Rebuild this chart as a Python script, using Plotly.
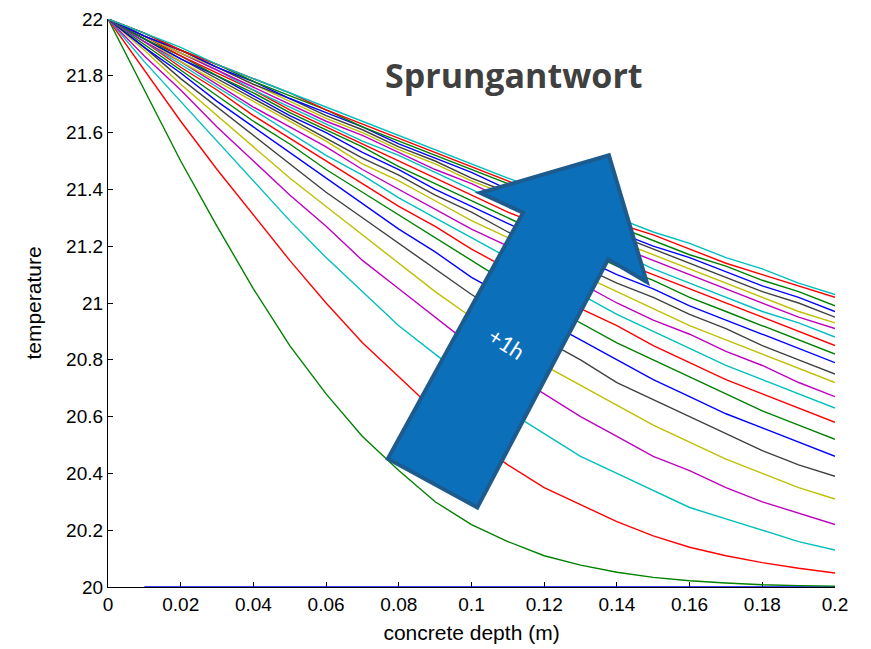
import plotly.graph_objects as go

# concrete depth (m)
depth = [0, 0.01, 0.02, 0.03, 0.04, 0.05, 0.06, 0.07, 0.08, 0.09, 0.10,
         0.11, 0.12, 0.13, 0.14, 0.15, 0.16, 0.17, 0.18, 0.19, 0.20]

# temperature profiles, one per hour after the step
t_h00 = [None, 20, 20, 20, 20, 20, 20, 20, 20, 20, 20, 20, 20, 20, 20, 20, 20, 20, 20, 20, 20]
t_h01 = [22, 21.75, 21.50, 21.27, 21.05, 20.85, 20.68, 20.53, 20.41, 20.30, 20.22, 20.16, 20.11, 20.077, 20.052, 20.034, 20.022, 20.014, 20.008, 20.005, 20.003]
t_h02 = [22, 21.82, 21.64, 21.47, 21.31, 21.15, 21.00, 20.86, 20.74, 20.62, 20.52, 20.43, 20.35, 20.29, 20.23, 20.18, 20.14, 20.11, 20.086, 20.066, 20.049]
t_h03 = [22, 21.85, 21.71, 21.57, 21.43, 21.29, 21.16, 21.04, 20.92, 20.82, 20.72, 20.62, 20.54, 20.46, 20.40, 20.34, 20.28, 20.24, 20.20, 20.16, 20.13]
t_h04 = [22, 21.87, 21.75, 21.62, 21.50, 21.38, 21.27, 21.15, 21.05, 20.95, 20.85, 20.76, 20.68, 20.60, 20.53, 20.46, 20.41, 20.35, 20.30, 20.26, 20.22]
t_h05 = [22, 21.89, 21.77, 21.66, 21.55, 21.44, 21.34, 21.24, 21.14, 21.04, 20.95, 20.87, 20.78, 20.71, 20.64, 20.57, 20.51, 20.45, 20.40, 20.35, 20.31]
t_h06 = [22, 21.90, 21.79, 21.69, 21.59, 21.49, 21.39, 21.30, 21.21, 21.12, 21.03, 20.95, 20.87, 20.80, 20.72, 20.66, 20.60, 20.54, 20.48, 20.43, 20.39]
t_h07 = [22, 21.90, 21.81, 21.71, 21.62, 21.53, 21.44, 21.35, 21.26, 21.18, 21.09, 21.02, 20.94, 20.87, 20.80, 20.73, 20.67, 20.61, 20.56, 20.51, 20.46]
t_h08 = [22, 21.91, 21.82, 21.73, 21.64, 21.56, 21.47, 21.39, 21.31, 21.23, 21.15, 21.07, 21.00, 20.93, 20.86, 20.80, 20.74, 20.68, 20.62, 20.57, 20.52]
t_h09 = [22, 21.92, 21.83, 21.75, 21.66, 21.58, 21.50, 21.42, 21.34, 21.27, 21.19, 21.12, 21.05, 20.98, 20.92, 20.85, 20.79, 20.73, 20.68, 20.63, 20.58]
t_h10 = [22, 21.92, 21.84, 21.76, 21.68, 21.60, 21.52, 21.45, 21.37, 21.30, 21.23, 21.16, 21.09, 21.03, 20.96, 20.90, 20.84, 20.78, 20.73, 20.68, 20.63]
t_h11 = [22, 21.92, 21.85, 21.77, 21.69, 21.62, 21.55, 21.47, 21.40, 21.33, 21.26, 21.20, 21.13, 21.07, 21.00, 20.94, 20.89, 20.83, 20.78, 20.72, 20.67]
t_h12 = [22, 21.93, 21.85, 21.78, 21.71, 21.64, 21.57, 21.49, 21.43, 21.36, 21.29, 21.23, 21.16, 21.10, 21.04, 20.98, 20.92, 20.87, 20.82, 20.77, 20.72]
t_h13 = [22, 21.93, 21.86, 21.79, 21.72, 21.65, 21.58, 21.51, 21.45, 21.38, 21.32, 21.25, 21.19, 21.13, 21.07, 21.02, 20.96, 20.91, 20.85, 20.80, 20.75]
t_h14 = [22, 21.93, 21.86, 21.80, 21.73, 21.66, 21.60, 21.53, 21.47, 21.40, 21.34, 21.28, 21.22, 21.16, 21.10, 21.05, 20.99, 20.94, 20.89, 20.84, 20.79]
t_h15 = [22, 21.93, 21.87, 21.80, 21.74, 21.67, 21.61, 21.55, 21.48, 21.42, 21.36, 21.30, 21.24, 21.19, 21.13, 21.08, 21.02, 20.97, 20.92, 20.87, 20.82]
t_h16 = [22, 21.94, 21.87, 21.81, 21.75, 21.68, 21.62, 21.56, 21.50, 21.44, 21.38, 21.32, 21.27, 21.21, 21.15, 21.10, 21.05, 21.00, 20.95, 20.90, 20.85]
t_h17 = [22, 21.94, 21.88, 21.82, 21.75, 21.69, 21.63, 21.57, 21.52, 21.46, 21.40, 21.34, 21.29, 21.23, 21.18, 21.12, 21.07, 21.02, 20.97, 20.93, 20.88]
t_h18 = [22, 21.94, 21.88, 21.82, 21.76, 21.70, 21.64, 21.59, 21.53, 21.47, 21.42, 21.36, 21.31, 21.25, 21.20, 21.15, 21.10, 21.05, 21.00, 20.95, 20.91]
t_h19 = [22, 21.94, 21.88, 21.83, 21.77, 21.71, 21.65, 21.60, 21.54, 21.49, 21.43, 21.38, 21.32, 21.27, 21.22, 21.17, 21.12, 21.07, 21.02, 20.97, 20.93]
t_h20 = [22, 21.94, 21.89, 21.83, 21.77, 21.72, 21.66, 21.61, 21.55, 21.50, 21.44, 21.39, 21.34, 21.29, 21.24, 21.19, 21.14, 21.09, 21.04, 21.00, 20.95]
t_h21 = [22, 21.94, 21.89, 21.83, 21.78, 21.72, 21.67, 21.62, 21.56, 21.51, 21.46, 21.40, 21.35, 21.30, 21.25, 21.20, 21.16, 21.11, 21.06, 21.02, 20.97]
t_h22 = [22, 21.95, 21.89, 21.84, 21.78, 21.73, 21.68, 21.62, 21.57, 21.52, 21.47, 21.42, 21.37, 21.32, 21.27, 21.22, 21.17, 21.13, 21.08, 21.04, 20.99]
t_h23 = [22, 21.95, 21.89, 21.84, 21.79, 21.74, 21.68, 21.63, 21.58, 21.53, 21.48, 21.43, 21.38, 21.33, 21.28, 21.24, 21.19, 21.14, 21.10, 21.06, 21.02]
t_h24 = [22, 21.95, 21.90, 21.84, 21.79, 21.74, 21.69, 21.64, 21.59, 21.54, 21.49, 21.44, 21.39, 21.34, 21.30, 21.25, 21.21, 21.16, 21.12, 21.07, 21.03]

profiles = [t_h00, t_h01, t_h02, t_h03, t_h04, t_h05, t_h06, t_h07, t_h08, t_h09,
            t_h10, t_h11, t_h12, t_h13, t_h14, t_h15, t_h16, t_h17, t_h18, t_h19,
            t_h20, t_h21, t_h22, t_h23, t_h24]

# MATLAB classic colour order
line_colors = ["#0000FF", "#008000", "#FF0000", "#00BFBF", "#BF00BF", "#BFBF00", "#404040"]

x_tickvals = [0, 0.02, 0.04, 0.06, 0.08, 0.10, 0.12, 0.14, 0.16, 0.18, 0.20]
x_ticktext = ["0", "0.02", "0.04", "0.06", "0.08", "0.1", "0.12", "0.14", "0.16", "0.18", "0.2"]
y_tickvals = [20, 20.2, 20.4, 20.6, 20.8, 21, 21.2, 21.4, 21.6, 21.8, 22]
y_ticktext = ["20", "20.2", "20.4", "20.6", "20.8", "21", "21.2", "21.4", "21.6", "21.8", "22"]

fig = go.Figure()
for i, prof in enumerate(profiles):
    fig.add_trace(go.Scatter(
        x=depth, y=prof, mode="lines",
        line=dict(color=line_colors[i % len(line_colors)], width=1.4),
        name=f"{i} h", showlegend=False, hoverinfo="skip",
    ))

FONT = "Liberation Sans, Arial, sans-serif"
axis_font = dict(family=FONT, size=19, color="#000000")
title_font = dict(family=FONT, size=21, color="#000000")

fig.update_layout(
    width=871, height=649,
    margin=dict(l=100, r=44, t=11, b=70),
    paper_bgcolor="white", plot_bgcolor="white",
    showlegend=False,
    xaxis=dict(
        range=[0, 0.2], tickvals=x_tickvals, ticktext=x_ticktext,
        showline=True, linecolor="black", linewidth=1.2, mirror=False,
        ticks="inside", ticklen=5, tickcolor="black", tickwidth=1.2,
        showgrid=False, zeroline=False, tickfont=axis_font,
        ticklabeloverflow="allow",
        layer="below traces",
        title=dict(text="concrete depth (m)", font=title_font, standoff=11),
        automargin=False,
    ),
    yaxis=dict(
        range=[20, 22], tickvals=y_tickvals, ticktext=y_ticktext,
        showline=True, linecolor="black", linewidth=1.2, mirror=False,
        ticks="inside", ticklen=5, tickcolor="black", tickwidth=1.2,
        showgrid=False, zeroline=False, tickfont=axis_font,
        ticklabeloverflow="allow",
        layer="below traces",
        title=dict(text="temperature", font=title_font, standoff=18),
        automargin=False,
    ),
)

# block arrow decoration (paper coordinates)
arrow_path = ("M 0.385,0.226 L 0.508,0.140 L 0.688,0.577 L 0.741,0.537 "
              "L 0.689,0.760 L 0.512,0.694 L 0.571,0.659 Z")
fig.add_shape(type="path", path=arrow_path, xref="paper", yref="paper",
              fillcolor="#0B6FBA", line=dict(color="#1D5B8E", width=4), layer="above")

fig.add_annotation(text="+1h", xref="paper", yref="paper", x=0.549, y=0.429,
                   xanchor="center", yanchor="middle",
                   showarrow=False, textangle=33,
                   font=dict(family="Lato, Open Sans, sans-serif", size=22, color="white"))

fig.add_annotation(text="<b>Sprungantwort</b>", xref="paper", yref="paper", x=0.558, y=0.901,
                   xanchor="center", yanchor="middle",
                   showarrow=False,
                   font=dict(family="Open Sans, Lato, sans-serif", size=34, color="#404040"))

fig.write_html("out.html")
